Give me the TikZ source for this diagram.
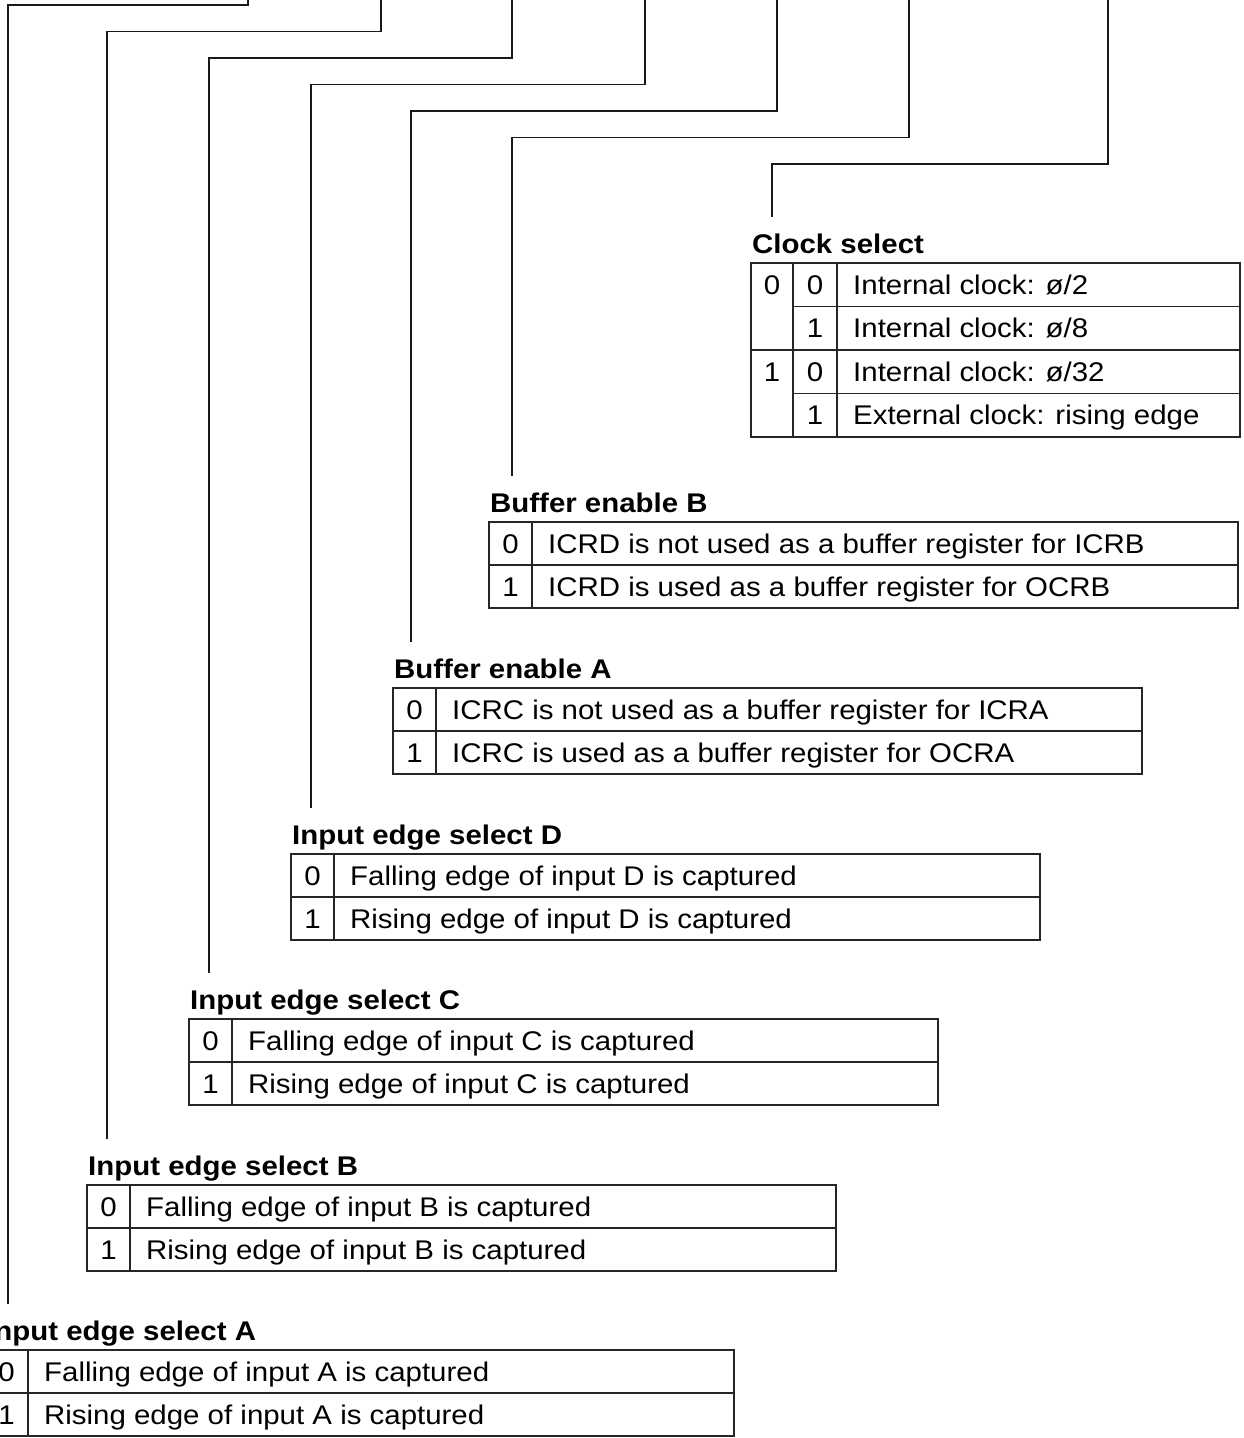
\documentclass[tikz,border=0pt]{standalone}
\usepackage{fontspec}
\setmainfont{Liberation Sans}[FakeStretch=1.09]

\tikzset{
  wire/.style = {line width=1.1pt, black!90},
  grid/.style = {line width=1.1pt, draw=black!85},
  ttl/.style = {anchor=base west, inner sep=0pt, font=\fontsize{27}{32}\selectfont\bfseries},
  bit/.style = {anchor=base, inner sep=0pt},
  txt/.style = {anchor=base west, inner sep=0pt}
}

\begin{document}
\begin{tikzpicture}[x=1pt,y=-1pt,font=\fontsize{27}{32}\selectfont]
\useasboundingbox (0,0) rectangle (1243,1438);
\clip (0,0) rectangle (1243,1438);
\def\tw{749}
\def\rh{43}
              %two-row tables
\foreach \nm/\lx/\ty/\ttl/\ra/\rb in {
bb/489/522/{Buffer enable B}/{ICRD is not used as a buffer register for ICRB}/{ICRD is used as a buffer register for OCRB},
ba/393/688/{Buffer enable A}/{ICRC is not used as a buffer register for ICRA}/{ICRC is used as a buffer register for OCRA},
d/291/854/{Input edge select D}/{Falling edge of input D is captured}/{Rising edge of input D is captured},
c/189/1019/{Input edge select C}/{Falling edge of input C is captured}/{Rising edge of input C is captured},
b/87/1185/{Input edge select B}/{Falling edge of input B is captured}/{Rising edge of input B is captured},
a/-15/1350/{Input edge select A}/{Falling edge of input A is captured}/{Rising edge of input A is captured}}{
\node [ttl] (\nm) at (\lx+1,\ty-10) {\ttl};
\draw [grid] (\lx,\ty) rectangle (\lx+\tw,\ty+2*\rh);
\draw [grid] (\lx,\ty+\rh) -- (\lx+\tw,\ty+\rh);
\draw [grid] (\lx+43,\ty) -- (\lx+43,\ty+2*\rh);
\node [bit] (\nm0) at (\lx+21.5,\ty+31) {0};
\node [bit] (\nm1) at (\lx+21.5,\ty+\rh+31) {1};
\node [txt] (\nm t0) at (\lx+59,\ty+31) {\ra};
\node [txt] (\nm t1) at (\lx+59,\ty+\rh+31) {\rb};
}
              %clock select table
\node [ttl] (cs) at (752,253) {Clock select};
\draw [grid] (751,263) rectangle (1240,437);
\draw [grid] (793,263) -- (793,437);
\draw [grid] (837,263) -- (837,437);
\draw [grid] (751,350) -- (1240,350);
\foreach \y in {306.5,393.5}{
\draw [grid] (793,\y) -- (1240,\y);
}
\node [bit] (csa0) at (772,294) {0};
\node [bit] (csa1) at (772,381) {1};
\foreach \b/\y/\t [count=\i] in {0/294/{Internal clock: ø/2},1/337.5/{Internal clock: ø/8},0/381/{Internal clock: ø/32},1/424.5/{External clock: rising edge}}{
\node [bit] (csb\i) at (815,\y) {\b};
\node [txt] (cst\i) at (853,\y) {\t};
}
              %lines from the register bits
\foreach \nm/\rx/\hy/\vx/\ey in {a/248/5/8/1304, b/381/31.5/107/1139, c/512/58/209/973, d/645/84.5/311/808, ba/777/111/411/642, bb/909/137.5/512/476, cs/1108/164/772/217}{
\coordinate (\nm top) at (\rx,-2);
\coordinate (\nm end) at (\vx,\ey);
\draw [wire] (\nm top) -- ++(0,\hy+2) -| (\nm end);
}
\end{tikzpicture}
\end{document}
